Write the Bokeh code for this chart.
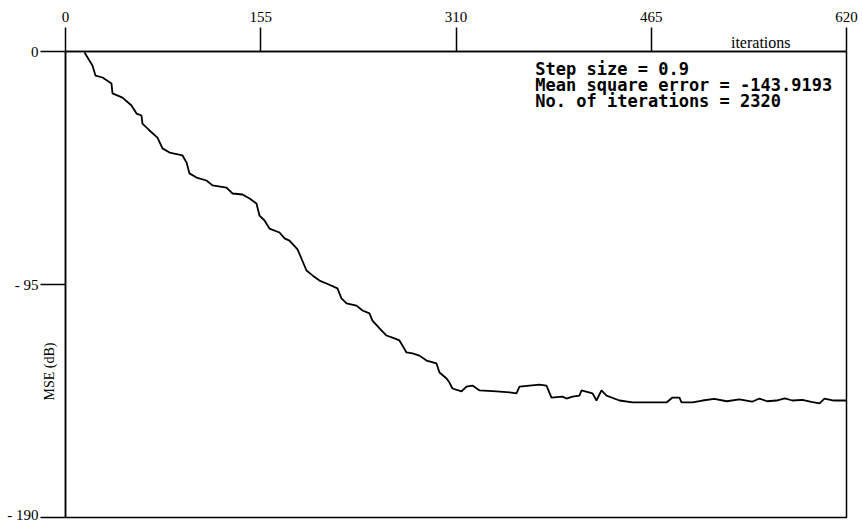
import math
from bokeh.plotting import figure
from bokeh.models import LinearAxis, FixedTicker, Range1d, Label, ColumnDataSource, Title
from bokeh.embed import file_html
from bokeh.resources import INLINE

# ---- data ----
iterations = [15.1, 21.4, 23.8, 29.4, 36.5, 37.3, 45.2, 52.4, 56.4, 60.3, 61.1, 66.7,
              73.0, 77.0, 82.6, 92.9, 96.1, 98.4, 104.0, 111.9, 116.7, 127.8, 132.6,
              140.5, 146.1, 151.6, 154.0, 158.0, 161.9, 169.9, 173.9, 177.8, 184.2,
              187.3, 191.3, 196.1, 201.6, 207.2, 215.9, 219.1, 223.1, 231.0, 235.8,
              241.3, 243.7, 249.3, 254.8, 261.2, 265.1, 267.5, 270.7, 275.5, 281.0,
              286.6, 294.5, 296.9, 302.5, 304.8, 307.2, 314.4, 318.3, 323.1, 328.7,
              342.2, 352.5, 358.0, 360.4, 376.3, 381.8, 385.8, 394.5, 397.7, 402.5,
              408.0, 409.6, 418.4, 421.5, 425.5, 429.5, 439.8, 450.1, 477.1, 481.9,
              487.4, 489.0, 497.7, 505.7, 515.0, 525.0, 535.0, 545.0, 550.9, 557.0,
              564.4, 571.0, 577.1, 585.0, 592.0, 598.6, 602.5, 610.0, 620.0]
mse_db = [-0.4, -5.7, -9.8, -10.6, -13.0, -17.1, -18.8, -22.0, -25.3, -26.1, -29.4, -32.2,
          -35.1, -39.5, -41.2, -42.4, -45.3, -49.7, -51.4, -52.6, -54.6, -55.5, -57.9,
          -58.3, -59.9, -62.0, -66.9, -68.9, -72.2, -73.8, -76.2, -77.1, -80.7,
          -84.4, -89.3, -91.3, -93.4, -94.6, -96.6, -100.7, -102.7, -103.6, -105.6,
          -106.8, -109.7, -112.9, -115.8, -117.0, -117.8, -119.9, -122.7, -123.1, -124.0,
          -126.0, -127.2, -130.9, -133.3, -135.0, -137.4, -138.6, -136.6, -136.2, -138.2,
          -138.6, -139.0, -139.4, -136.6, -135.8, -136.2, -141.1, -140.7, -141.5, -140.7,
          -140.3, -138.2, -139.4, -142.3, -138.2, -140.3, -142.3, -143.1, -143.1, -141.1,
          -141.1, -143.1, -143.1, -142.3, -141.6, -142.6, -141.8, -142.8, -141.5, -142.6,
          -142.3, -141.4, -142.3, -142.0, -142.9, -143.5, -141.5, -142.3, -142.3]

x_ticks = [0, 155, 310, 465, 620]
y_ticks = [0, -95, -190]
y_tick_labels = {0: "0", -95: "- 95", -190: "- 190"}

info_lines = ["Step size = 0.9",
              "Mean square error = -143.9193",
              "No. of iterations = 2320"]
x_title = "iterations"
y_title = "MSE (dB)"

# ---- figure ----
p = figure(width=858, height=522, output_backend="svg", toolbar_location=None,
           x_range=Range1d(0, 620), y_range=Range1d(-190, 0),
           x_axis_location=None, y_axis_location=None,
           min_border_left=65, min_border_right=12, min_border_top=51, min_border_bottom=5)
p.background_fill_color = "white"
p.border_fill_color = "white"
p.grid.visible = False
p.outline_line_color = "black"
p.outline_line_width = 1.5

serif = "Liberation Serif"

top_axis = LinearAxis(ticker=FixedTicker(ticks=x_ticks))
top_axis.major_tick_out = 24
top_axis.major_tick_in = 0
top_axis.minor_tick_out = 0
top_axis.minor_tick_in = 0
top_axis.major_label_standoff = 6
top_axis.major_label_text_font = serif
top_axis.major_label_text_font_size = "15px"
top_axis.major_label_text_color = "black"
top_axis.axis_line_width = 1.5
top_axis.major_tick_line_width = 1.5
p.add_layout(top_axis, "above")

left_axis = LinearAxis(ticker=FixedTicker(ticks=y_ticks))
left_axis.major_label_overrides = y_tick_labels
left_axis.major_tick_out = 25
left_axis.major_tick_in = 0
left_axis.minor_tick_out = 0
left_axis.minor_tick_in = 0
left_axis.major_label_standoff = 2
left_axis.major_label_text_font = serif
left_axis.major_label_text_font_size = "15px"
left_axis.major_label_text_color = "black"
left_axis.axis_line_width = 1.5
left_axis.major_tick_line_width = 1.5
p.add_layout(left_axis, "left")

# axis titles placed next to the frame, as in the reference
p.add_layout(Title(text=x_title, align="right", offset=56, standoff=-84,
                   text_font=serif, text_font_style="normal",
                   text_font_size="16px", text_color="black"), "above")
p.add_layout(Title(text=y_title, align="left", offset=117, standoff=-104,
                   text_font=serif, text_font_style="normal",
                   text_font_size="14px", text_color="black"), "left")

src = ColumnDataSource(dict(x=iterations, y=mse_db))
p.line("x", "y", source=src, line_color="black", line_width=1.8)

# info text block
ys = [-7.0, -13.6, -20.2]
for txt, yy in zip(info_lines, ys):
    p.add_layout(Label(x=373, y=yy, text=txt, text_font="DejaVu Sans Mono",
                       text_font_style="bold", text_font_size="17px",
                       text_color="black", text_baseline="alphabetic",
                       text_align="left"))

open("out.html", "w").write(file_html(p, INLINE))
